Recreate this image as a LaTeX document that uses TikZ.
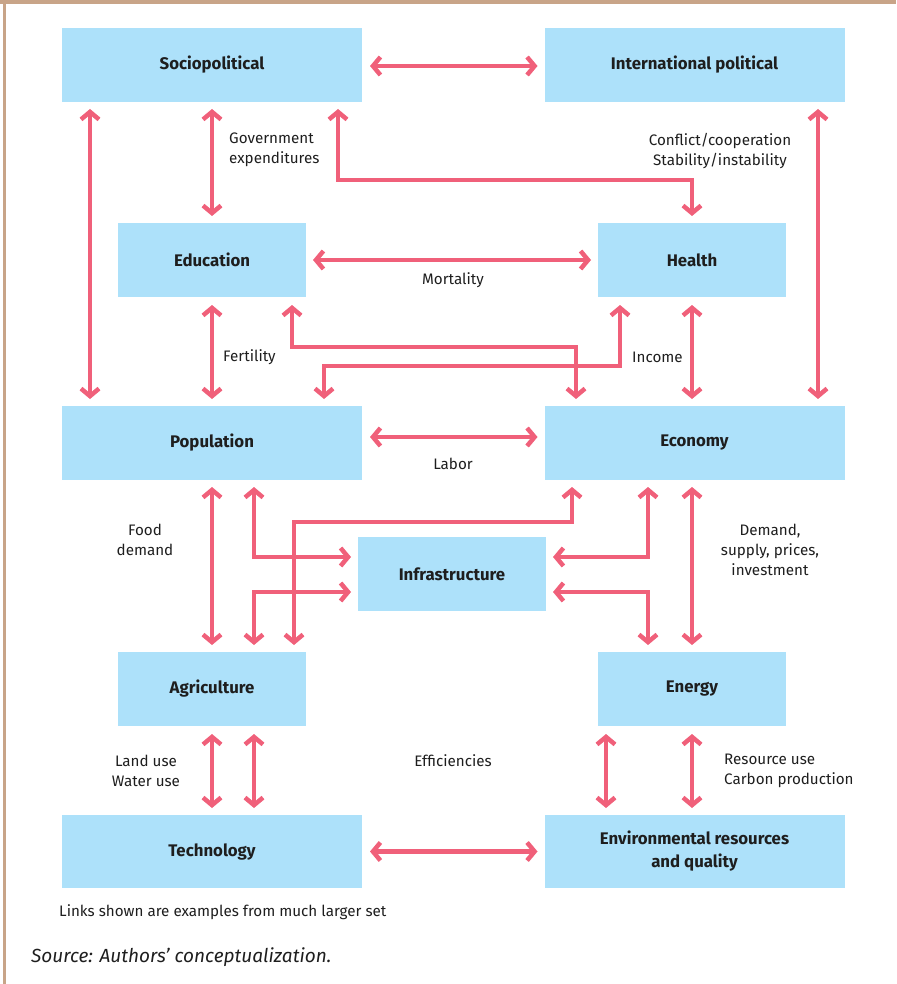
\documentclass[tikz,border=0pt]{standalone}
\usepackage{fontspec}
\setmainfont{Fira Sans}
\usetikzlibrary{arrows.meta}
\definecolor{boxblue}{RGB}{173,225,250}
\definecolor{linkred}{RGB}{240,96,122}
\definecolor{frame}{RGB}{200,164,136}
\definecolor{txt}{RGB}{30,30,30}
\tikzset{
  box/.style={fill=boxblue, draw=none, inner sep=0pt, outer sep=0pt, minimum height=74pt,
    align=center, text=txt, font=\fontsize{16.8}{23}\selectfont\bfseries},
  wide/.style={minimum width=300pt},
  narrow/.style={minimum width=188pt},
  link/.style={draw=linkred, line width=4.5pt,
    {Straight Barb[length=7.5pt,width=18pt,line cap=butt]}-{Straight Barb[length=7.5pt,width=18pt,line cap=butt]}},
  lbl/.style={text=txt, font=\fontsize{15.2}{20}\selectfont, inner sep=0pt}
}
\begin{document}
\begin{tikzpicture}[x=1pt,y=-1pt]
\useasboundingbox (0,0) rectangle (896,984);
\fill[frame] (0,0) rectangle (896,4.5);
\fill[frame] (3,0) rectangle (6,984);

\node[box,wide]   (soc) at (212,65)    {Sociopolitical};
\node[box,wide]   (int) at (694.5,65)  {International political};
\node[box,narrow] (edu) at (212,260)   {Education};
\node[box,narrow] (hea) at (692,260)   {Health};
\node[box,wide]   (pop) at (212,443)   {Population};
\node[box,wide]   (eco) at (694.5,443) {Economy};
\node[box,narrow] (inf) at (452,574)   {Infrastructure};
\node[box,narrow] (agr) at (212,689)   {Agriculture};
\node[box,narrow] (ene) at (692,689)   {Energy};
\node[box,wide,minimum height=73pt] (tec) at (212,851.5)   {Technology};
\node[box,wide,minimum height=73pt] (env) at (694.5,851.5) {Environmental resources\\and quality};

% top row
\draw[link] ([xshift=8pt]soc.east |- 0,66) -- ([xshift=-7pt]int.west |- 0,66);
\draw[link] ([yshift=-7pt]soc.south -| 90,0) -- ([yshift=7pt]pop.north -| 90,0);
\draw[link] ([yshift=-7pt]soc.south) -- ([yshift=7pt]edu.north);
\draw[link] ([yshift=-7pt]soc.south -| 338,0) -- (338,180) -| ([yshift=7pt]hea.north);
\draw[link] ([yshift=-7pt]int.south -| 818,0) -- ([yshift=7pt]eco.north -| 818,0);

% education / health
\draw[link] ([xshift=7pt]edu.east) -- ([xshift=-7pt]hea.west);
\draw[link] ([yshift=-8pt]edu.south) -- ([yshift=7pt]pop.north);
\draw[link] ([yshift=-8pt]edu.south -| 292,0) -- (292,347) -| ([yshift=7pt]eco.north -| 576,0);
\draw[link] ([yshift=-8pt]hea.south -| 620,0) -- (620,366) -| ([yshift=7pt]pop.north -| 324,0);
\draw[link] ([yshift=-8pt]hea.south) -- ([yshift=7pt]eco.north -| 692,0);

% population / economy
\draw[link] ([xshift=8pt]pop.east |- 0,437) -- ([xshift=-7pt]eco.west |- 0,437);
\draw[link] ([yshift=-7pt]pop.south) -- ([yshift=7pt]agr.north);
\draw[link] ([yshift=-7pt]pop.south -| 254,0) |- ([xshift=-7pt]inf.west |- 0,557);
\draw[link] ([yshift=7pt]agr.north -| 254,0) |- ([xshift=-7pt]inf.west |- 0,592);
\draw[link] ([yshift=7pt]agr.north -| 294,0) -- (294,522) -| ([yshift=-7pt]eco.south -| 572,0);
\draw[link] ([yshift=-7pt]eco.south -| 648,0) |- ([xshift=7pt]inf.east |- 0,557);
\draw[link] ([yshift=7pt]ene.north -| 648,0) |- ([xshift=7pt]inf.east |- 0,592);
\draw[link] ([yshift=-7pt]eco.south -| 692,0) -- ([yshift=7pt]ene.north);

% bottom
\draw[link] ([yshift=-8pt]agr.south) -- ([yshift=7pt]tec.north);
\draw[link] ([yshift=-8pt]agr.south -| 254,0) -- ([yshift=7pt]tec.north -| 254,0);
\draw[link] ([yshift=-8pt]ene.south -| 606,0) -- ([yshift=7pt]env.north -| 606,0);
\draw[link] ([yshift=-8pt]ene.south) -- ([yshift=7pt]env.north -| 692,0);
\draw[link] ([xshift=8pt]tec.east) -- ([xshift=-7pt]env.west);

% labels
\node[lbl,align=left,anchor=west] (l1) at (229,149.5) {Government\\expenditures};
\node[lbl,align=center] (l2) at (720,151) {Conflict/cooperation\\Stability/instability};
\node[lbl] (l3) at (453,280.5) {Mortality};
\node[lbl,anchor=west] (l4) at (223,357) {Fertility};
\node[lbl,anchor=west] (l5) at (632,357) {Income};
\node[lbl] (l6) at (453,463.5) {Labor};
\node[lbl,align=center] (l7) at (145,540) {Food\\demand};
\node[lbl,align=center] (l8) at (770,550) {Demand,\\supply, prices,\\investment};
\node[lbl,align=center] (l9) at (146,770.5) {Land use\\Water use};
\node[lbl] (l10) at (453,761) {Efficiencies};
\node[lbl,align=left,anchor=west] (l11) at (724,771) {Resource use\\Carbon production};
\node[lbl,anchor=west] (l12) at (59,912) {Links shown are examples from much larger set};
\node[text=txt, font=\fontsize{19}{22}\selectfont\itshape, inner sep=0pt, anchor=west] (src) at (31,957) {Source: Authors’ conceptualization.};
\end{tikzpicture}
\end{document}
